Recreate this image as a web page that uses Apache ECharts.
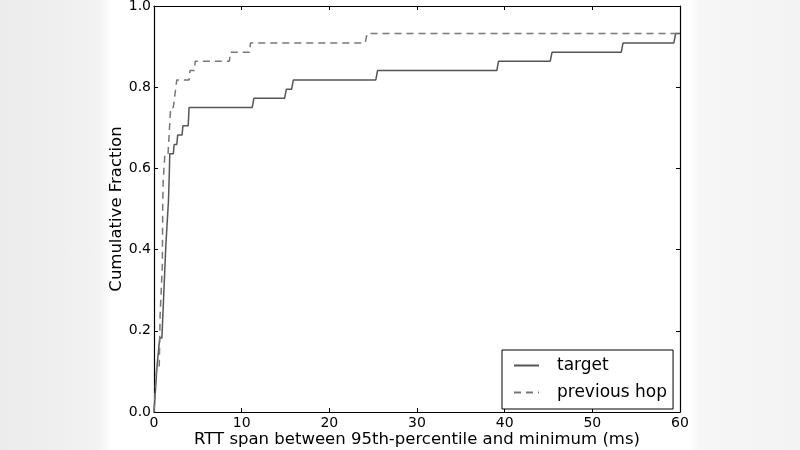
<!DOCTYPE html>
<html>
<head>
<meta charset="utf-8">
<script src="https://cdn.jsdelivr.net/npm/echarts@6/dist/echarts.min.js"></script>
<style>
html,body{margin:0;padding:0;}
body{width:800px;height:450px;overflow:hidden;
background:linear-gradient(to right,#ececec 0px,#efefef 60px,#f3f3f3 100px,#ffffff 112px,#ffffff 688px,#f6f6f6 700px,#f3f3f3 800px);}
#c{width:800px;height:450px;}
</style>
</head>
<body>
<div id="c"></div>
<script>
// CDF of RTT span (ms) for target and previous hop
const targetX = [0, 0.35, 0.65, 0.9, 1.35, 1.65, 1.75, 1.8, 2.2, 2.3, 2.6, 2.7, 3.2, 3.3, 3.9, 4.0, 11.2, 11.4, 14.9, 15.1, 15.7, 15.9, 25.3, 25.5, 39.1, 39.3, 45.2, 45.4, 53.3, 53.5, 59.3, 59.5, 60];
const targetY = [0, 0.114, 0.182, 0.182, 0.41, 0.52, 0.59, 0.636, 0.636, 0.659, 0.659, 0.682, 0.682, 0.705, 0.705, 0.75, 0.75, 0.773, 0.773, 0.795, 0.795, 0.818, 0.818, 0.841, 0.841, 0.864, 0.864, 0.886, 0.886, 0.909, 0.909, 0.932, 0.932];
const prevX = [0, 0.3, 0.6, 0.7, 0.95, 1.0, 1.05, 1.2, 1.25, 1.6, 1.9, 2.2, 2.6, 4.0, 4.1, 4.6, 4.7, 8.6, 8.7, 10.9, 11.0, 24.1, 24.3, 60];
const prevY = [0, 0.114, 0.114, 0.24, 0.36, 0.52, 0.57, 0.57, 0.636, 0.636, 0.75, 0.75, 0.818, 0.818, 0.841, 0.841, 0.864, 0.864, 0.886, 0.886, 0.909, 0.909, 0.932, 0.932];
const seriesNames = ['target', 'previous hop'];
const xTicks = [0, 10, 20, 30, 40, 50, 60];
const yTicks = [0.0, 0.2, 0.4, 0.6, 0.8, 1.0];

const zip = (xs, ys) => xs.map((x, i) => [x, ys[i]]);
const font = 'DejaVu Sans';
const chart = echarts.init(document.getElementById('c'), null, {renderer: 'canvas'});
const axisCommon = () => ({
  axisLine: {show: true, onZero: false, lineStyle: {color: '#000', width: 1.2}},
  axisTick: {show: true, inside: true, length: 4, lineStyle: {color: '#000'}},
  splitLine: {show: false}
});
chart.setOption({
  backgroundColor: 'transparent',
  animation: false,
  grid: {left: 154, top: 6, right: 120, bottom: 38, containLabel: false, outerBoundsMode: 'none'},
  legend: {
    left: 502, top: 350, orient: 'vertical',
    backgroundColor: '#fff',
    borderColor: '#000', borderWidth: 1, borderRadius: 0,
    padding: [7, 6, 8, 11],
    itemWidth: 25, itemHeight: 14, itemGap: 10,
    itemStyle: {opacity: 0},
    textStyle: {fontFamily: font, fontSize: 17, color: '#000', padding: [0, 0, 0, 13]},
    data: seriesNames
  },
  xAxis: [
    Object.assign({type: 'value', min: 0, max: 60, interval: 10, position: 'bottom',
      name: 'RTT span between 95th-percentile and minimum (ms)', nameLocation: 'middle', nameGap: 19,
      nameMoveOverlap: false,
      nameTextStyle: {fontFamily: font, fontSize: 16.5, color: '#000'},
      axisLabel: {fontFamily: font, fontSize: 14, color: '#000', margin: 4,
        formatter: v => xTicks.includes(v) ? String(v) : ''}}, axisCommon()),
    Object.assign({type: 'value', min: 0, max: 60, interval: 10, position: 'top',
      axisLabel: {show: false}}, axisCommon())
  ],
  yAxis: [
    Object.assign({type: 'value', min: 0, max: 1, interval: 0.2, position: 'left',
      name: 'Cumulative Fraction', nameLocation: 'middle', nameGap: 29,
      nameMoveOverlap: false,
      nameTextStyle: {fontFamily: font, fontSize: 16.5, color: '#000'},
      axisLabel: {fontFamily: font, fontSize: 14, color: '#000', margin: 3,
        formatter: v => yTicks.find(t => Math.abs(t - v) < 1e-9) !== undefined ? v.toFixed(1) : ''}}, axisCommon()),
    Object.assign({type: 'value', min: 0, max: 1, interval: 0.2, position: 'right',
      axisLabel: {show: false}}, axisCommon())
  ],
  series: [
    {name: seriesNames[0], type: 'line', data: zip(targetX, targetY), symbol: 'none', showSymbol: false,
      color: '#555555', lineStyle: {color: '#555555', width: 1.5, type: 'solid'}},
    {name: seriesNames[1], type: 'line', data: zip(prevX, prevY), symbol: 'none', showSymbol: false,
      color: '#777777', lineStyle: {color: '#777777', width: 1.5, type: [7, 5]}}
  ]
});
</script>
</body>
</html>
